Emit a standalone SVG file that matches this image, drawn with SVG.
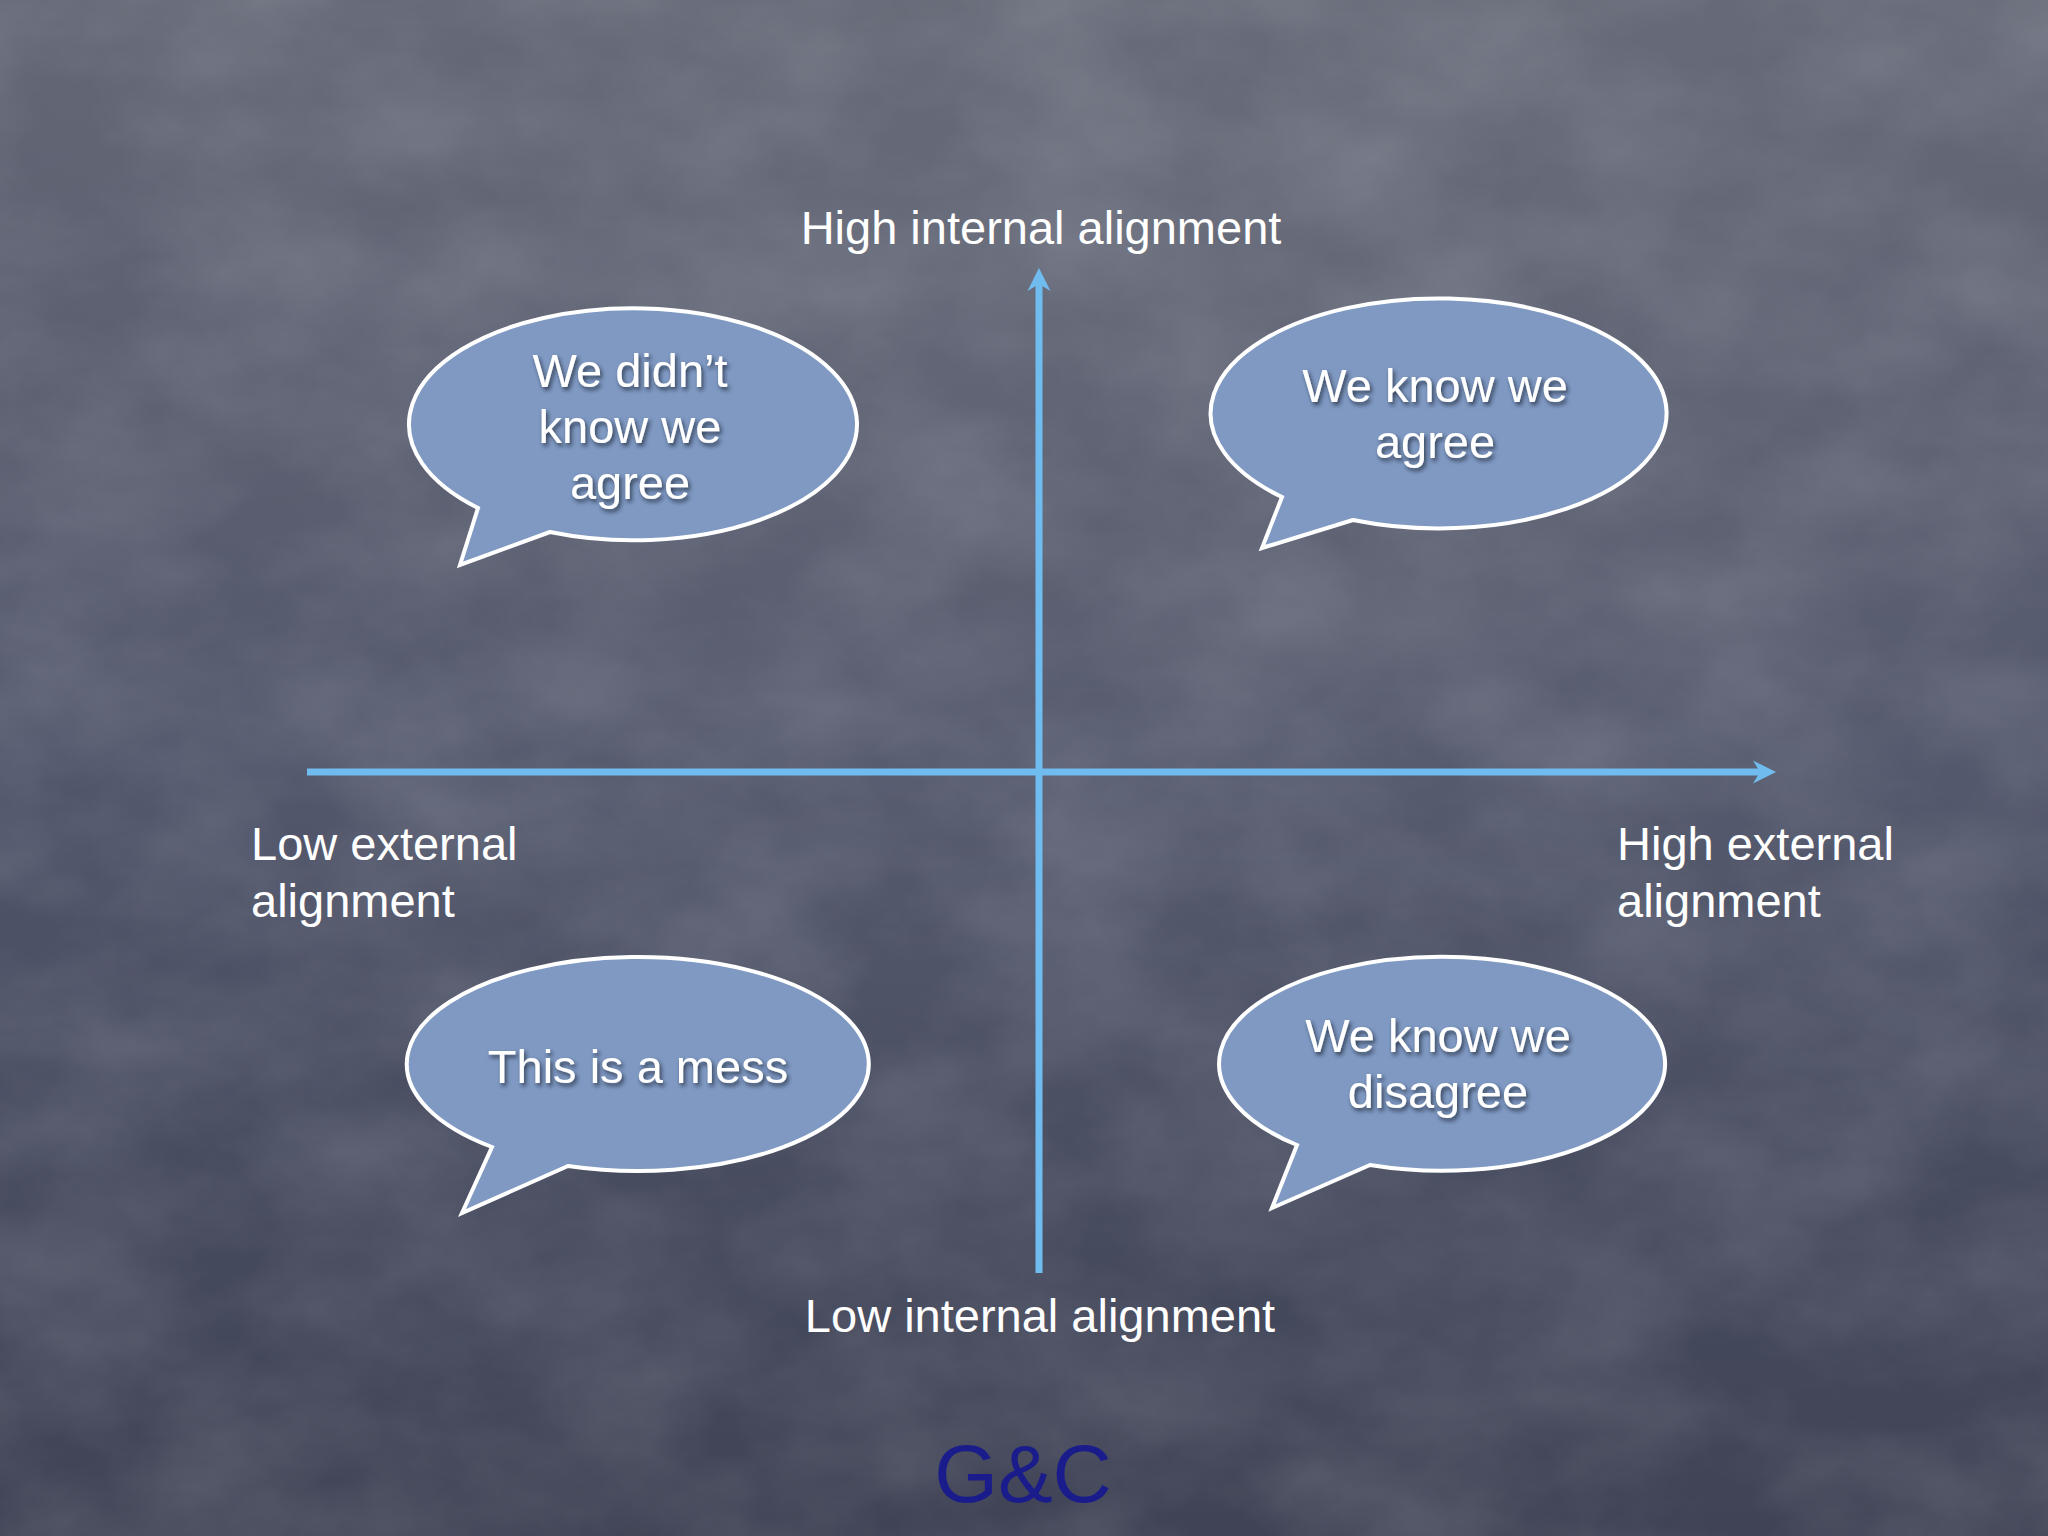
<svg xmlns="http://www.w3.org/2000/svg" width="2048" height="1536" viewBox="0 0 2048 1536">
  <defs>
    <linearGradient id="bg" x1="0" y1="0" x2="0" y2="1">
      <stop offset="0" stop-color="#626674"/>
      <stop offset="0.5" stop-color="#50556a"/>
      <stop offset="1" stop-color="#3f4355"/>
    </linearGradient>
    <radialGradient id="glow" cx="0.6" cy="0.15" r="0.7">
      <stop offset="0" stop-color="#7a7d88" stop-opacity="0.3"/>
      <stop offset="1" stop-color="#7a7d88" stop-opacity="0"/>
    </radialGradient>
    <filter id="chalk" x="0" y="0" width="100%" height="100%">
      <feTurbulence type="fractalNoise" baseFrequency="0.006 0.009" numOctaves="5" seed="11"/>
      <feColorMatrix type="matrix" values="0 0 0 0 0.8  0 0 0 0 0.82  0 0 0 0 0.88  0 0 0 0.22 -0.06"/>
    </filter>
    <filter id="shadow" x="-20%" y="-20%" width="140%" height="160%">
      <feDropShadow dx="2" dy="3" stdDeviation="2" flood-color="#1c2030" flood-opacity="0.75"/>
    </filter>
    <marker id="arrow" viewBox="-24 -12 25 24" refX="-16" refY="0" markerWidth="25" markerHeight="24" markerUnits="userSpaceOnUse" orient="auto">
      <path d="M0,0 L-23,-11.5 L-16,0 L-23,11.5 Z" fill="#71bcef"/>
    </marker>
    <style>
      .bubble { fill: #7f99c2; stroke: #ffffff; stroke-width: 4; stroke-linejoin: miter; }
      .btext { font-family: "Liberation Sans", Arial, sans-serif; font-size: 47px; fill: #ffffff; text-anchor: middle; filter: url(#shadow); }
      .label { font-family: "Liberation Sans", Arial, sans-serif; font-size: 47px; fill: #ffffff; }
      .axis { stroke: #71bcef; stroke-width: 7; fill: none; }
    </style>
  </defs>

  <rect x="0" y="0" width="2048" height="1536" fill="url(#bg)"/>
  <rect x="0" y="0" width="2048" height="1536" fill="url(#glow)"/>
  <rect x="0" y="0" width="2048" height="1536" filter="url(#chalk)"/>

  <g id="connectors">
    <line class="axis" x1="1039" y1="1273" x2="1039" y2="284" marker-end="url(#arrow)"/>
    <line class="axis" x1="307" y1="772" x2="1760" y2="772" marker-end="url(#arrow)"/>
  </g>

  <g id="label-high-internal">
    <text class="label" x="1041" y="244" text-anchor="middle">High internal alignment</text>
  </g>
  <g id="label-low-internal">
    <text class="label" x="1040" y="1332" text-anchor="middle">Low internal alignment</text>
  </g>
  <g id="label-low-external">
    <text class="label" x="251" y="860">Low external</text>
    <text class="label" x="251" y="917">alignment</text>
  </g>
  <g id="label-high-external">
    <text class="label" x="1617" y="860">High external</text>
    <text class="label" x="1617" y="917">alignment</text>
  </g>

  <g id="bubble-didnt-know">
    <path class="bubble" d="M550 532 L460 565 L478 508 A224 116 0 1 1 550 532 Z"/>
    <text class="btext" x="630" y="387">We didn’t</text>
    <text class="btext" x="630" y="443">know we</text>
    <text class="btext" x="630" y="499">agree</text>
  </g>

  <g id="bubble-know-agree">
    <path class="bubble" d="M1353 520 L1262 548 L1282 497 A228 115 0 1 1 1353 520 Z"/>
    <text class="btext" x="1435" y="402">We know we</text>
    <text class="btext" x="1435" y="458">agree</text>
  </g>

  <g id="bubble-mess">
    <path class="bubble" d="M568 1166 L462 1213 L492 1147 A231 107 0 1 1 568 1166 Z"/>
    <text class="btext" x="638" y="1083">This is a mess</text>
  </g>

  <g id="bubble-know-disagree">
    <path class="bubble" d="M1370 1165 L1272 1208 L1297 1145 A223 107 0 1 1 1370 1165 Z"/>
    <text class="btext" x="1438" y="1052">We know we</text>
    <text class="btext" x="1438" y="1108">disagree</text>
  </g>

  <g id="logo">
    <text x="1023" y="1502" text-anchor="middle" font-family="'Liberation Sans', Arial, sans-serif" font-size="82" fill="#1b1c8c">G&amp;C</text>
  </g>
</svg>
